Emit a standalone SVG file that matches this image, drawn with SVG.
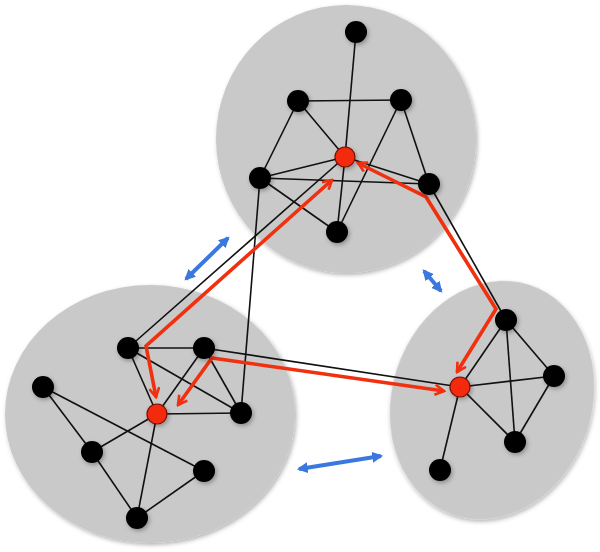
<svg xmlns="http://www.w3.org/2000/svg" width="600" height="552" viewBox="0 0 600 552">
<style>
.cl{fill:#c9c9c9}
.e{stroke:#111;stroke-width:1.6;fill:none}
.n{fill:#000}
.r{fill:#f32b0c;stroke:#7a1000;stroke-width:1.2}
.ra{stroke:#f0300f;stroke-width:3.6;fill:none;stroke-linejoin:miter;marker-start:url(#rh);marker-end:url(#rh)}
.ba{stroke:#3a78e0;stroke-width:4;fill:none;marker-start:url(#bh);marker-end:url(#bh)}
</style>
<defs>
<filter id="sh" x="-20%" y="-20%" width="140%" height="140%"><feDropShadow dx="1.5" dy="2" stdDeviation="2" flood-color="#000" flood-opacity="0.3"/></filter>
<marker id="rh" viewBox="0 0 12 12" refX="10" refY="6" markerWidth="12" markerHeight="12" markerUnits="userSpaceOnUse" orient="auto-start-reverse">
<path d="M1,1 L10,6 L1,11" fill="none" stroke="#f0300f" stroke-width="2.6"/>
</marker>
<marker id="bh" viewBox="0 0 10 10" refX="8" refY="5" markerWidth="11" markerHeight="11" markerUnits="userSpaceOnUse" orient="auto-start-reverse">
<path d="M0,0 L10,5 L0,10 Z" fill="#3a78e0"/>
</marker>
</defs>
<g id="clusters">
<ellipse id="cluster-top" class="cl" cx="346" cy="139" rx="130" ry="134" filter="url(#sh)"/>
<ellipse id="cluster-left" class="cl" cx="150" cy="414" rx="145" ry="129" filter="url(#sh)"/>
<ellipse id="cluster-right" class="cl" cx="492" cy="400" rx="100" ry="121" transform="rotate(18 492 400)" filter="url(#sh)"/>
</g>
<g id="connectors">
<line class="e" x1="356" y1="32" x2="345" y2="157"/>
<line class="e" x1="298" y1="101" x2="401" y2="100"/>
<line class="e" x1="298" y1="101" x2="345" y2="157"/>
<line class="e" x1="298" y1="101" x2="260" y2="178"/>
<line class="e" x1="401" y1="100" x2="337" y2="232"/>
<line class="e" x1="401" y1="100" x2="429" y2="184"/>
<line class="e" x1="260" y1="178" x2="345" y2="157"/>
<line class="e" x1="260" y1="178" x2="429" y2="184"/>
<line class="e" x1="260" y1="178" x2="337" y2="232"/>
<line class="e" x1="345" y1="157" x2="337" y2="232"/>
<line class="e" x1="345" y1="157" x2="429" y2="184"/>
<line class="e" x1="128" y1="348" x2="345" y2="157"/>
<line class="e" x1="260" y1="178" x2="241" y2="413"/>
<line class="e" x1="429" y1="184" x2="506" y2="320"/>
<line class="e" x1="204" y1="348" x2="460" y2="387"/>
<line class="e" x1="128" y1="348" x2="204" y2="348"/>
<line class="e" x1="128" y1="348" x2="157" y2="414"/>
<line class="e" x1="128" y1="348" x2="241" y2="413"/>
<line class="e" x1="204" y1="348" x2="157" y2="414"/>
<line class="e" x1="204" y1="348" x2="241" y2="413"/>
<line class="e" x1="157" y1="414" x2="241" y2="413"/>
<line class="e" x1="43" y1="387" x2="92" y2="452"/>
<line class="e" x1="43" y1="387" x2="204" y2="471"/>
<line class="e" x1="92" y1="452" x2="157" y2="414"/>
<line class="e" x1="92" y1="452" x2="137" y2="518"/>
<line class="e" x1="157" y1="414" x2="137" y2="518"/>
<line class="e" x1="137" y1="518" x2="204" y2="471"/>
<line class="e" x1="506" y1="320" x2="460" y2="387"/>
<line class="e" x1="506" y1="320" x2="554" y2="376"/>
<line class="e" x1="506" y1="320" x2="515" y2="442"/>
<line class="e" x1="460" y1="387" x2="554" y2="376"/>
<line class="e" x1="460" y1="387" x2="515" y2="442"/>
<line class="e" x1="554" y1="376" x2="515" y2="442"/>
<line class="e" x1="460" y1="387" x2="440" y2="470"/>
<polyline class="ra" points="332,180 146,346 156,397"/>
<polyline class="ra" points="358,163 426,197 496,309 457,372"/>
<polyline class="ra" points="178,405 212,358 444,391"/>
<line class="ba" x1="186" y1="279" x2="228" y2="238"/>
<line class="ba" x1="424" y1="271" x2="441" y2="291"/>
<line class="ba" x1="299" y1="469" x2="381" y2="456"/>
</g>
<g id="nodes" filter="url(#sh)">
<g id="t1"><circle class="n" cx="356" cy="32" r="11"/></g>
<g id="t2"><circle class="n" cx="298" cy="101" r="11"/></g>
<g id="t3"><circle class="n" cx="401" cy="100" r="11"/></g>
<g id="t4"><circle class="r" cx="345" cy="157" r="10"/></g>
<g id="t5"><circle class="n" cx="260" cy="178" r="11"/></g>
<g id="t6"><circle class="n" cx="429" cy="184" r="11"/></g>
<g id="t7"><circle class="n" cx="337" cy="232" r="11"/></g>
<g id="l1"><circle class="n" cx="128" cy="348" r="11"/></g>
<g id="l2"><circle class="n" cx="204" cy="348" r="11"/></g>
<g id="l3"><circle class="n" cx="43" cy="387" r="11"/></g>
<g id="l4"><circle class="r" cx="157" cy="414" r="10"/></g>
<g id="l5"><circle class="n" cx="241" cy="413" r="11"/></g>
<g id="l6"><circle class="n" cx="92" cy="452" r="11"/></g>
<g id="l7"><circle class="n" cx="204" cy="471" r="11"/></g>
<g id="l8"><circle class="n" cx="137" cy="518" r="11"/></g>
<g id="r1"><circle class="n" cx="506" cy="320" r="11"/></g>
<g id="r2"><circle class="n" cx="554" cy="376" r="11"/></g>
<g id="r3"><circle class="r" cx="460" cy="387" r="10"/></g>
<g id="r4"><circle class="n" cx="515" cy="442" r="11"/></g>
<g id="r5"><circle class="n" cx="440" cy="470" r="11"/></g>
</g>
</svg>
